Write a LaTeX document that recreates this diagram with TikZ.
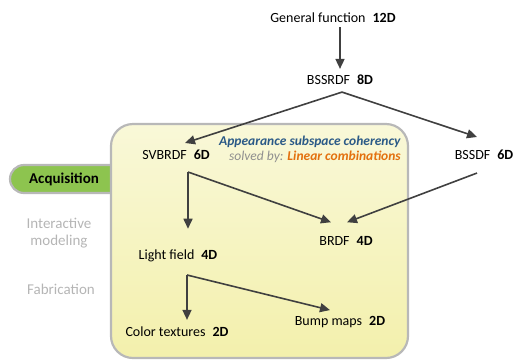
\documentclass[tikz,border=0pt]{standalone}
\usepackage{fontspec}
\setmainfont{Carlito}
\usetikzlibrary{arrows.meta,calc}

\definecolor{arrowgray}{HTML}{404040}
\definecolor{boxgray}{HTML}{B8B8B8}
\definecolor{boxtop}{HTML}{F9F8D8}
\definecolor{boxbot}{HTML}{F3F0AC}
\definecolor{tabgreen}{HTML}{8DC44F}
\definecolor{sidegray}{HTML}{B5B5B5}
\definecolor{titleblue}{HTML}{2B5A87}
\definecolor{solvedgray}{HTML}{8F8F8F}
\definecolor{solvedorange}{HTML}{E3700E}

\begin{document}
\begin{tikzpicture}[x=1pt,y=-1pt,
  lbl/.style={font=\fontsize{14}{16}\selectfont, inner sep=1pt},
  side/.style={font=\fontsize{15}{17}\selectfont, inner sep=1pt, text=sidegray, align=center},
  note/.style={font=\fontsize{13.5}{16}\selectfont, inner sep=1pt, anchor=east},
  arr/.style={draw=arrowgray, line width=1.6pt, -{Triangle[length=10pt,width=9pt]}}]
\useasboundingbox (0,0) rectangle (513,360);

% green tab, tucked under the box
\draw[line width=2.2pt, draw=boxgray, fill=tabgreen, rounded corners=14pt] (10,165) rectangle (140,193);
\draw[line width=2.2pt, draw=boxgray, top color=boxtop, bottom color=boxbot, rounded corners=22pt] (111,124) rectangle (408,358);

\node[side, text=black] (acq) at (64,179) {\textbf{Acquisition}};
\node[side] (imod) at (59,233) {Interactive\\modeling};
\node[side] (fab) at (61,289) {Fabrication};

\node[note, text=titleblue] (asc) at (402,142) {\textbf{\textit{Appearance subspace coherency}}};
\node[note] (slv) at (402,157) {\textcolor{solvedgray}{\textit{solved by:}} \textcolor{solvedorange}{\textbf{\textit{Linear combinations}}}};

% the functions
\node[lbl] (gen)  at (333,18)  {General function\hspace{0.5em}\textbf{12D}};
\node[lbl] (bss)  at (340,80)  {BSSRDF\hspace{0.5em}\textbf{8D}};
\node[lbl] (sv)   at (176,155) {SVBRDF\hspace{0.5em}\textbf{6D}};
\node[lbl] (bsd)  at (484,155) {BSSDF\hspace{0.5em}\textbf{6D}};
\node[lbl] (brdf) at (346,241) {BRDF\hspace{0.5em}\textbf{4D}};
\node[lbl] (lf)   at (178,256) {Light field\hspace{0.5em}\textbf{4D}};
\node[lbl] (ct)   at (177,332) {Color textures\hspace{0.5em}\textbf{2D}};
\node[lbl] (bm)   at (340,322) {Bump maps\hspace{0.5em}\textbf{2D}};

\coordinate (svfork) at (188,172);
\coordinate (lffork) at (187,275);

\draw[arr] ($(gen.south -| bss.north)+(0,3)$) -- ($(bss.north)+(0,-5)$);
\draw[arr] ($(bss.south)+(2,6)$) -- ($(sv.north)+(9,-6)$);
\draw[arr] ($(bss.south)+(2,6)$) -- ($(bsd.north)+(-7,-12)$);

\draw[arr] (svfork) -- ($(svfork |- lf.north)+(0,-20)$);
\draw[arr] (svfork) -- ($(brdf.north)+(-15,-13)$);
\draw[arr] ($(bsd.south)+(-7,12)$) -- ($(brdf.north)+(1,-13)$);

\draw[arr] (lffork) -- ($(lffork |- ct.north)+(0,-6)$);
\draw[arr] (lffork) -- ($(bm.north)+(-10,-5)$);
\end{tikzpicture}
\end{document}
